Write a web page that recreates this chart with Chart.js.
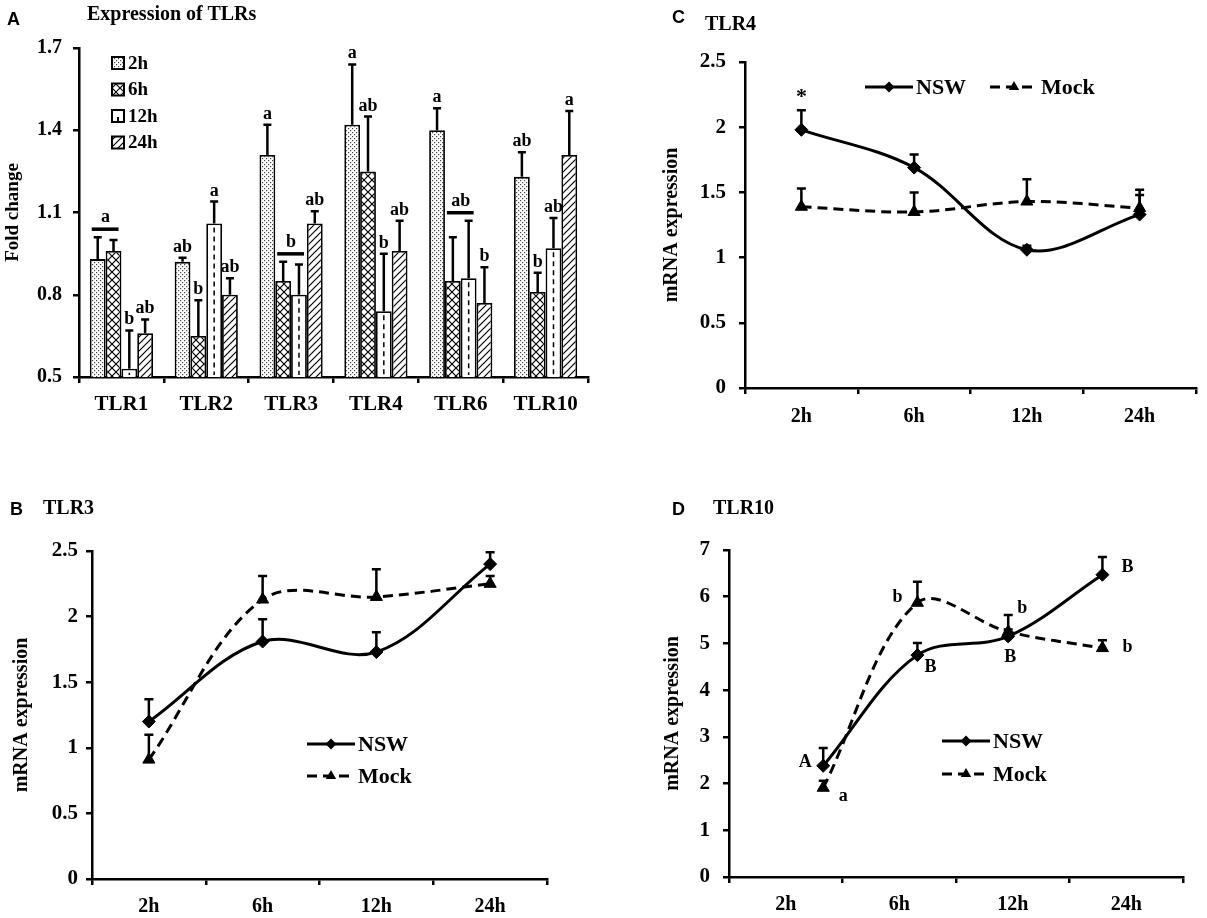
<!DOCTYPE html>
<html>
<head>
<meta charset="utf-8">
<title>Expression of TLRs</title>
<script src="https://cdn.jsdelivr.net/npm/chart.js@4.4.1/dist/chart.umd.min.js"></script>
<style>
  body { margin: 0; background: #fff; }
  #fig { position: relative; width: 1207px; height: 918px; overflow: hidden; }
  canvas { position: absolute; }
  .tag { position: absolute; font: bold 18px "Liberation Sans", Arial, sans-serif; line-height: 1; color: #000; }
  .ttl { position: absolute; font: bold 20px "Liberation Serif", "Times New Roman", serif; line-height: 1; color: #000; }
</style>
</head>
<body>
<div id="fig">
  <canvas id="chartA" width="620" height="460" style="left:0;top:0"></canvas>
  <canvas id="chartC" width="587" height="460" style="left:620px;top:0"></canvas>
  <canvas id="chartB" width="620" height="458" style="left:0;top:460px"></canvas>
  <canvas id="chartD" width="587" height="458" style="left:620px;top:460px"></canvas>
  <div class="tag" style="left:7px;top:10px">A</div>
  <div class="ttl" style="left:87px;top:3px">Expression of TLRs</div>
  <div class="tag" style="left:672px;top:8px">C</div>
  <div class="ttl" style="left:705px;top:13px">TLR4</div>
  <div class="tag" style="left:10px;top:500px">B</div>
  <div class="ttl" style="left:43px;top:497px">TLR3</div>
  <div class="tag" style="left:672px;top:500px">D</div>
  <div class="ttl" style="left:713px;top:497px">TLR10</div>
</div>
<script>
'use strict';

const genes = ['TLR1', 'TLR2', 'TLR3', 'TLR4', 'TLR6', 'TLR10'];
const hours = ['2h', '6h', '12h', '24h'];

// A: fold change of each TLR, one array per time point
const fold2h  = [0.93, 0.92, 1.31, 1.42, 1.40, 1.23];
const fold6h  = [0.96, 0.65, 0.85, 1.25, 0.85, 0.81];
const fold12h = [0.53, 1.06, 0.80, 0.74, 0.86, 0.97];
const fold24h = [0.66, 0.80, 1.06, 0.96, 0.77, 1.31];
const sd2h  = [0.08, 0.015, 0.11, 0.22, 0.08, 0.09];
const sd6h  = [0.04, 0.13, 0.07, 0.20, 0.16, 0.07];
const sd12h = [0.14, 0.08, 0.11, 0.21, 0.21, 0.11];
const sd24h = [0.05, 0.06, 0.045, 0.11, 0.13, 0.16];
const letters2h  = ['', 'ab', 'a', 'a', 'a', 'ab'];
const letters6h  = ['', 'b', '', 'ab', '', 'b'];
const letters12h = ['b', 'a', '', 'b', '', 'ab'];
const letters24h = ['ab', 'ab', 'ab', 'ab', 'b', 'a'];
// letters shared by two neighbouring bars (bar index = time point)
const sharedLetters = [
  { gene: 0, bars: [0, 1], text: 'a' },
  { gene: 2, bars: [1, 2], text: 'b' },
  { gene: 4, bars: [1, 2], text: 'ab' }
];

// B: TLR3 mRNA expression
const tlr3Nsw    = [1.20, 1.81, 1.73, 2.40];
const tlr3NswSd  = [0.17, 0.17, 0.15, 0.09];
const tlr3Mock   = [0.91, 2.13, 2.15, 2.25];
const tlr3MockSd = [0.19, 0.18, 0.21, 0.06];

// C: TLR4 mRNA expression
const tlr4Nsw    = [1.98, 1.69, 1.06, 1.33];
const tlr4NswSd  = [0.15, 0.10, 0.03, 0.19];
const tlr4Mock   = [1.39, 1.35, 1.43, 1.38];
const tlr4MockSd = [0.14, 0.15, 0.17, 0.10];

// D: TLR10 mRNA expression (points sit off the category centres in the original)
const tlr10Pos    = [0.83, 1.66, 2.46, 3.29];
const tlr10Nsw    = [2.38, 4.75, 5.15, 6.47];
const tlr10NswSd  = [0.38, 0.26, 0.15, 0.38];
const tlr10Mock   = [1.91, 5.87, 5.25, 4.90];
const tlr10MockSd = [0.15, 0.45, 0.36, 0.17];
const tlr10NswLetters  = ['A', 'B', 'B', 'B'];
const tlr10MockLetters = ['a', 'b', 'b', 'b'];

const serif = '"Liberation Serif", "Times New Roman", serif';
const bold = (size) => ({ family: serif, size: size, weight: 'bold' });
Chart.defaults.font.family = serif;
Chart.defaults.color = '#000';

// bar fills
function makePattern(size, draw) {
  const c = document.createElement('canvas');
  c.width = size; c.height = size;
  const g = c.getContext('2d');
  g.fillStyle = '#fff';
  g.fillRect(0, 0, size, size);
  g.fillStyle = '#000';
  g.strokeStyle = '#000';
  g.lineWidth = 1.2;
  draw(g, size);
  return g.createPattern(c, 'repeat');
}
const dotFill = makePattern(4, (g) => {
  g.fillStyle = '#444';
  g.fillRect(0, 0, 1.2, 1.2);
  g.fillRect(2, 2, 1.2, 1.2);
});
const crossFill = makePattern(8, (g, s) => {
  g.beginPath();
  g.moveTo(0, 0); g.lineTo(s, s);
  g.moveTo(s, 0); g.lineTo(0, s);
  g.stroke();
});
const diagFill = makePattern(7, (g, s) => {
  g.beginPath();
  g.moveTo(0, s); g.lineTo(s, 0);
  g.moveTo(-1, 1); g.lineTo(1, -1);
  g.moveTo(s - 1, s + 1); g.lineTo(s + 1, s - 1);
  g.stroke();
});

function valueOf(raw) {
  return typeof raw === 'object' ? raw.y : raw;
}

// dashed centre line inside the 12h bars
const dashedBars = {
  id: 'dashedBars',
  afterDatasetsDraw(chart) {
    const ctx = chart.ctx;
    const bottom = chart.chartArea.bottom;
    const meta = chart.getDatasetMeta(2);
    ctx.save();
    ctx.strokeStyle = '#000';
    ctx.lineWidth = 1.5;
    ctx.setLineDash([5, 4]);
    meta.data.forEach((el) => {
      ctx.beginPath();
      ctx.moveTo(el.x, el.y + 4);
      ctx.lineTo(el.x, bottom - 2);
      ctx.stroke();
    });
    ctx.restore();
  }
};

// upward error bars from dataset.sd
const errorBars = {
  id: 'errorBars',
  afterDatasetsDraw(chart, args, opts) {
    const ctx = chart.ctx;
    const y = chart.scales.y;
    ctx.save();
    ctx.strokeStyle = '#000';
    ctx.lineWidth = opts.width;
    chart.data.datasets.forEach((ds, d) => {
      if (!ds.sd) return;
      chart.getDatasetMeta(d).data.forEach((el, i) => {
        const top = y.getPixelForValue(valueOf(ds.data[i]) + ds.sd[i]);
        ctx.beginPath();
        ctx.moveTo(el.x, el.y);
        ctx.lineTo(el.x, top);
        ctx.moveTo(el.x - opts.cap, top);
        ctx.lineTo(el.x + opts.cap, top);
        ctx.stroke();
      });
    });
    ctx.restore();
  }
};

// significance letters over the bars of panel A
const barLetters = {
  id: 'barLetters',
  afterDatasetsDraw(chart) {
    const ctx = chart.ctx;
    const y = chart.scales.y;
    const sets = chart.data.datasets;
    const topOf = (d, i) => y.getPixelForValue(sets[d].data[i] + sets[d].sd[i]);
    ctx.save();
    ctx.fillStyle = '#000';
    ctx.font = 'bold 18px ' + serif;
    ctx.textAlign = 'center';
    ctx.textBaseline = 'alphabetic';
    sets.forEach((ds, d) => {
      chart.getDatasetMeta(d).data.forEach((el, i) => {
        if (ds.letters[i]) ctx.fillText(ds.letters[i], el.x, topOf(d, i) - 6);
      });
    });
    sharedLetters.forEach((s) => {
      const a = chart.getDatasetMeta(s.bars[0]).data[s.gene];
      const b = chart.getDatasetMeta(s.bars[1]).data[s.gene];
      const lineY = Math.min(topOf(s.bars[0], s.gene), topOf(s.bars[1], s.gene)) - 8;
      ctx.fillRect(a.x - 6, lineY - 1.75, b.x - a.x + 11, 3.5);
      ctx.fillText(s.text, (a.x + b.x) / 2, lineY - 7);
    });
    ctx.restore();
  }
};

const patternLegend = {
  id: 'patternLegend',
  afterDraw(chart, args, o) {
    const ctx = chart.ctx;
    ctx.save();
    ctx.font = 'bold 19px ' + serif;
    ctx.textBaseline = 'middle';
    chart.data.datasets.forEach((ds, i) => {
      const cy = o.top + i * o.gap;
      ctx.fillStyle = ds.backgroundColor;
      ctx.fillRect(o.x, cy - 6, 12, 12);
      ctx.strokeStyle = '#000';
      ctx.lineWidth = 2;
      ctx.strokeRect(o.x, cy - 6, 12, 12);
      if (i === 2) {
        ctx.beginPath();
        ctx.moveTo(o.x + 6, cy + 1);
        ctx.lineTo(o.x + 6, cy + 6);
        ctx.stroke();
      }
      ctx.fillStyle = '#000';
      ctx.fillText(ds.label, o.x + 16, cy + 1);
    });
    ctx.restore();
  }
};

function marker(ctx, style, x, y, r) {
  ctx.beginPath();
  if (style === 'triangle') {
    ctx.moveTo(x, y - r);
    ctx.lineTo(x + r * 0.866, y + r * 0.5);
    ctx.lineTo(x - r * 0.866, y + r * 0.5);
  } else {
    ctx.moveTo(x, y - r);
    ctx.lineTo(x + r, y);
    ctx.lineTo(x, y + r);
    ctx.lineTo(x - r, y);
  }
  ctx.closePath();
  ctx.fill();
}

const lineLegend = {
  id: 'lineLegend',
  afterDraw(chart, args, o) {
    const ctx = chart.ctx;
    ctx.save();
    ctx.font = 'bold 22px ' + serif;
    ctx.textBaseline = 'middle';
    ctx.fillStyle = '#000';
    ctx.strokeStyle = '#000';
    chart.data.datasets.forEach((ds, i) => {
      const x = o.at[i][0], y = o.at[i][1];
      ctx.lineWidth = 3;
      ctx.setLineDash(ds.borderDash || []);
      ctx.beginPath();
      ctx.moveTo(x, y);
      ctx.lineTo(x + o.len, y);
      ctx.stroke();
      ctx.setLineDash([]);
      marker(ctx, ds.pointStyle, x + o.len / 2, y, ds.pointStyle === 'triangle' ? 6 : 5.5);
      ctx.fillText(ds.label, x + o.len + 3, y + 1);
    });
    ctx.restore();
  }
};

// text placed next to data points (offsets are in pixels)
const pointNotes = {
  id: 'pointNotes',
  afterDatasetsDraw(chart, args, o) {
    const ctx = chart.ctx;
    ctx.save();
    ctx.fillStyle = '#000';
    ctx.textAlign = 'center';
    ctx.textBaseline = 'middle';
    o.notes.forEach((n) => {
      const el = chart.getDatasetMeta(n.ds).data[n.i];
      ctx.font = 'bold ' + (n.size || 18) + 'px ' + serif;
      ctx.fillText(n.text, el.x + n.dx, el.y + n.dy);
    });
    ctx.restore();
  }
};

// ---------- panel A ----------
new Chart(document.getElementById('chartA'), {
  type: 'bar',
  data: {
    labels: genes,
    datasets: [
      { label: '2h', data: fold2h, sd: sd2h, letters: letters2h, backgroundColor: dotFill },
      { label: '6h', data: fold6h, sd: sd6h, letters: letters6h, backgroundColor: crossFill },
      { label: '12h', data: fold12h, sd: sd12h, letters: letters12h, backgroundColor: '#fff' },
      { label: '24h', data: fold24h, sd: sd24h, letters: letters24h, backgroundColor: diagFill }
    ].map((d) => Object.assign(d, {
      borderColor: '#000', borderWidth: 1.8, barPercentage: 1, categoryPercentage: 0.745
    }))
  },
  options: {
    responsive: false,
    animation: false,
    layout: { padding: { top: 48, right: 32, left: 0, bottom: 0 } },
    plugins: {
      legend: { display: false },
      tooltip: { enabled: false },
      errorBars: { cap: 4, width: 2.5 },
      patternLegend: { x: 112, top: 63, gap: 26.5 }
    },
    scales: {
      x: {
        grid: { offset: true, drawOnChartArea: false, tickLength: 6, lineWidth: 2.5, color: '#000' },
        border: { color: '#000', width: 2.5 },
        ticks: { font: bold(21), color: '#000', padding: 9 },
        afterFit: (s) => { s.height = 83; }
      },
      y: {
        min: 0.5, max: 1.7,
        grid: { drawOnChartArea: false, tickLength: 6, lineWidth: 2.5, color: '#000' },
        border: { color: '#000', width: 2.5 },
        ticks: { stepSize: 0.3, font: bold(20), color: '#000', padding: 11, callback: (v) => v.toFixed(1) },
        title: { display: true, text: 'Fold change', font: bold(19), color: '#000', padding: { top: 2, bottom: 0 } },
        afterFit: (s) => { s.width = 79; }
      }
    }
  },
  plugins: [dashedBars, errorBars, barLetters, patternLegend]
});

// ---------- panels B, C, D ----------
function drawLineChart(id, cfg) {
  const toPoints = (vals) => vals.map((v, i) => ({ x: cfg.pos ? cfg.pos[i] : i + 0.5, y: v }));
  const common = {
    borderColor: '#000', borderWidth: 3, pointBackgroundColor: '#000',
    pointBorderColor: '#000', pointBorderWidth: 1, tension: 0.35
  };
  return new Chart(document.getElementById(id), {
    type: 'line',
    data: {
      datasets: [
        Object.assign({ label: 'NSW', data: toPoints(cfg.nsw), sd: cfg.nswSd, pointStyle: 'rectRot', pointRadius: 6.5 }, common),
        Object.assign({ label: 'Mock', data: toPoints(cfg.mock), sd: cfg.mockSd, pointStyle: 'triangle', pointRadius: 7, borderDash: [10, 6] }, common)
      ]
    },
    options: {
      responsive: false,
      animation: false,
      layout: { padding: { top: cfg.top, right: cfg.right, left: 0, bottom: 0 } },
      plugins: {
        legend: { display: false },
        tooltip: { enabled: false },
        errorBars: { cap: 4.5, width: 2.5 },
        lineLegend: { at: cfg.legendAt, len: 48 },
        pointNotes: { notes: cfg.notes || [] }
      },
      scales: {
        x: {
          type: 'linear', min: 0, max: 4,
          grid: {
            drawOnChartArea: false, tickLength: 6, lineWidth: 2.5,
            color: (c) => (c.tick && Number.isInteger(c.tick.value) ? '#000' : 'rgba(0,0,0,0)')
          },
          border: { color: '#000', width: 2.5 },
          ticks: {
            stepSize: 0.5, autoSkip: false, maxRotation: 0, font: bold(20), color: '#000', padding: cfg.xPad,
            callback: (v) => (Number.isInteger(v) ? '' : hours[Math.floor(v)])
          },
          afterFit: (s) => { s.height = cfg.xHeight; }
        },
        y: {
          min: 0, max: cfg.yMax,
          grid: { drawOnChartArea: false, tickLength: 6, lineWidth: 2.5, color: '#000' },
          border: { color: '#000', width: 2.5 },
          ticks: {
            stepSize: cfg.yStep, font: bold(21), color: '#000', padding: cfg.yPad,
            callback: (v) => String(Number(v.toFixed(1)))
          },
          title: { display: true, text: 'mRNA expression', font: bold(20), color: '#000', padding: { top: cfg.titlePad, bottom: 0 } },
          afterFit: (s) => { s.width = cfg.yWidth; }
        }
      }
    },
    plugins: [errorBars, pointNotes, lineLegend]
  });
}

drawLineChart('chartB', {
  nsw: tlr3Nsw, nswSd: tlr3NswSd, mock: tlr3Mock, mockSd: tlr3MockSd,
  yMax: 2.5, yStep: 0.5,
  top: 91, right: 73, yWidth: 92, xHeight: 39, yPad: 8, xPad: 10, titlePad: 10,
  legendAt: [[307, 284], [307, 316]]
});

drawLineChart('chartC', {
  nsw: tlr4Nsw, nswSd: tlr4NswSd, mock: tlr4Mock, mockSd: tlr4MockSd,
  yMax: 2.5, yStep: 0.5,
  top: 62, right: 5, yWidth: 125, xHeight: 72, yPad: 13, xPad: 11, titlePad: 40,
  legendAt: [[245, 87], [370, 87]],
  notes: [{ ds: 0, i: 0, text: '*', dx: 0, dy: -32, size: 22 }]
});

const nswNoteOffsets  = [[-18, -3], [13, 12], [2, 21], [25, -7]];
const mockNoteOffsets = [[20, 9], [-20, -5], [14, -23], [25, -1]];
drawLineChart('chartD', {
  pos: tlr10Pos,
  nsw: tlr10Nsw, nswSd: tlr10NswSd, mock: tlr10Mock, mockSd: tlr10MockSd,
  yMax: 7, yStep: 1,
  top: 90, right: 24, yWidth: 109, xHeight: 41, yPad: 13, xPad: 10, titlePad: 41,
  legendAt: [[322, 281], [322, 314]],
  notes: tlr10NswLetters.map((t, i) => ({ ds: 0, i: i, text: t, dx: nswNoteOffsets[i][0], dy: nswNoteOffsets[i][1] }))
    .concat(tlr10MockLetters.map((t, i) => ({ ds: 1, i: i, text: t, dx: mockNoteOffsets[i][0], dy: mockNoteOffsets[i][1] })))
});
</script>
</body>
</html>
